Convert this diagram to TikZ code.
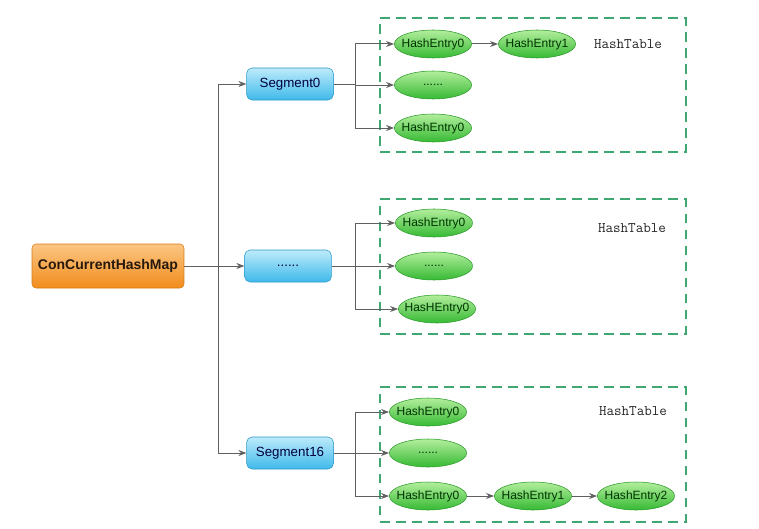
\documentclass[tikz,border=0pt]{standalone}
\usepackage{fontspec}
\setsansfont{Liberation Sans}
\usetikzlibrary{shapes.geometric,arrows.meta}
\definecolor{maptop}{HTML}{FBC683}
\definecolor{mapbot}{HTML}{F18C1C}
\definecolor{mapline}{HTML}{D97A14}
\definecolor{segtop}{HTML}{BDEBFB}
\definecolor{segbot}{HTML}{3FB9EA}
\definecolor{segline}{HTML}{2C98C8}
\definecolor{entrytop}{HTML}{B2EE9C}
\definecolor{entrybot}{HTML}{36BA34}
\definecolor{entryline}{HTML}{2B9A2B}
\definecolor{tableline}{HTML}{3FA872}
\definecolor{linkgray}{HTML}{606060}
\begin{document}
\begin{tikzpicture}
[
    x=0.75pt, y=-0.75pt,
    mapbox/.style={draw=mapline, rounded corners=3pt, top color=maptop, bottom color=mapbot,
        minimum width=114pt, minimum height=33pt, font=\sffamily\bfseries\fontsize{10.5}{12}\selectfont,
        text=black!80!brown},
    segbox/.style={draw=segline, rounded corners=4pt, top color=segtop, bottom color=segbot,
        minimum width=65pt, minimum height=24pt, font=\sffamily\fontsize{10}{12}\selectfont,
        text=black!75!blue},
    entry/.style={ellipse, draw=entryline, top color=entrytop, bottom color=entrybot,
        minimum width=58pt, minimum height=21pt, inner xsep=-4pt, inner ysep=0pt,
        font=\sffamily\fontsize{9}{11}\selectfont, text=black!80!green},
    tablebox/.style={draw=tableline, line width=1.5pt, dash pattern=on 7pt off 5pt,
        minimum width=229pt, minimum height=101pt},
    title/.style={font=\ttfamily\fontsize{11}{13}\selectfont, text=black!85},
    line/.style={draw=linkgray, line width=0.75pt},
    link/.style={line, -{Stealth[length=6pt,width=4.5pt]}}
]
    \useasboundingbox (0,0) rectangle (759,528);

    % hash tables
    \node[tablebox] (table0) at (533,85) {};
    \node[tablebox] (table1) at (533,266.5) {};
    \node[tablebox] (table2) at (533,454.5) {};
    \node[title] (title0) at (628,44) {HashTable};
    \node[title] (title1) at (632,228) {HashTable};
    \node[title] (title2) at (633,411) {HashTable};

    % map and segments
    \node[mapbox] (map) at (108,266) {ConCurrentHashMap};
    \node[segbox] (seg0) at (290,84) {Segment0};
    \node[segbox] (segm) at (288,266) {......};
    \node[segbox] (seg16) at (290,453) {Segment16};

    % entries
    \node[entry] (t0e0) at (433,44) {HashEntry0};
    \node[entry] (t0e1) at (537,44) {HashEntry1};
    \node[entry] (t0d) at (433,85) {......};
    \node[entry] (t0e2) at (433,128) {HashEntry0};

    \node[entry] (t1e0) at (434,223) {HashEntry0};
    \node[entry] (t1d) at (434,266) {......};
    \node[entry] (t1e2) at (437,309) {HasHEntry0};

    \node[entry] (t2e0) at (428,412) {HashEntry0};
    \node[entry] (t2d) at (428,453) {......};
    \node[entry] (t2e2) at (428,496) {HashEntry0};
    \node[entry] (t2e3) at (533,496) {HashEntry1};
    \node[entry] (t2e4) at (636,496) {HashEntry2};

    % connectors
    \coordinate (trunk) at (218,266);
    \coordinate (fork) at (355,266);
    \draw[link] (map) -- (segm);
    \draw[line] (trunk |- seg0) -- (trunk |- seg16);
    \draw[link] (trunk |- seg0) -- (seg0);
    \draw[link] (trunk |- seg16) -- (seg16);

    \draw[line] (seg0) -- (fork |- seg0);
    \draw[line] (fork |- t0e0) -- (fork |- t0e2);
    \draw[link] (fork |- t0e0) -- (t0e0);
    \draw[link] (fork |- t0d) -- (t0d);
    \draw[link] (fork |- t0e2) -- (t0e2);
    \draw[link] (t0e0) -- (t0e1);

    \draw[line] (segm) -- (fork);
    \draw[line] (fork |- t1e0) -- (fork |- t1e2);
    \draw[link] (fork |- t1e0) -- (t1e0);
    \draw[link] (fork |- t1d) -- (t1d);
    \draw[link] (fork |- t1e2) -- (t1e2);

    \draw[line] (seg16) -- (fork |- seg16);
    \draw[line] (fork |- t2e0) -- (fork |- t2e2);
    \draw[link] (fork |- t2e0) -- (t2e0);
    \draw[link] (fork |- t2d) -- (t2d);
    \draw[link] (fork |- t2e2) -- (t2e2);
    \draw[link] (t2e2) -- (t2e3);
    \draw[link] (t2e3) -- (t2e4);
\end{tikzpicture}
\end{document}
